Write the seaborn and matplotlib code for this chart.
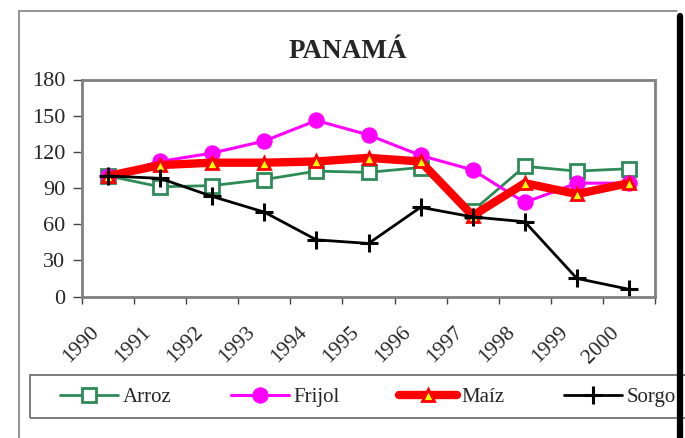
import numpy as np
import pandas as pd
import matplotlib
matplotlib.use("Agg")
import matplotlib.pyplot as plt
import matplotlib.transforms as mtransforms
import seaborn as sns
from matplotlib.lines import Line2D
from matplotlib.patches import Rectangle

years = ["1990", "1991", "1992", "1993", "1994", "1995",
         "1996", "1997", "1998", "1999", "2000"]
arroz = [100, 91, 92, 97, 104, 103, 107, 71, 108, 104, 106]
frijol = [100, 112, 119, 129, 146, 134, 117, 105, 78, 94, 94]
maiz = [100, 109, 111, 111, 112, 115, 112, 67, 94, 85, 94]
sorgo = [100, 98, 83, 70, 47, 44, 74, 66, 62, 15, 6]

sns.set_theme(style="white")
plt.rcParams["font.family"] = ["Liberation Serif", "DejaVu Serif"]

fig = plt.figure(figsize=(6.85, 4.38), dpi=100)
W, H = 685, 438
ax = fig.add_axes([82 / W, 1 - 296.5 / H, 573 / W, 217 / H])

pos = np.arange(len(years))
df = pd.DataFrame({"pos": pos, "Arroz": arroz, "Frijol": frijol,
                   "Maíz": maiz, "Sorgo": sorgo})

sns.lineplot(data=df, x="pos", y="Arroz", ax=ax, color="#2E8B57", lw=2,
             marker="s", markersize=10, markerfacecolor="white",
             markeredgecolor="#2E8B57", markeredgewidth=2, label="Arroz")
sns.lineplot(data=df, x="pos", y="Frijol", ax=ax, color="#FF00FF", lw=2.2,
             marker="o", markersize=11, markerfacecolor="#FF00FF",
             markeredgecolor="#FF00FF", label="Frijol")
sns.lineplot(data=df, x="pos", y="Maíz", ax=ax, color="#FF0000", lw=6,
             marker="^", markersize=9, markerfacecolor="#FFFF00",
             markeredgecolor="#FF0000", markeredgewidth=2, label="Maíz")
sns.lineplot(data=df, x="pos", y="Sorgo", ax=ax, color="black", lw=2,
             marker="+", markersize=13, markeredgewidth=2.2,
             markeredgecolor="black", label="Sorgo")

handles, labels = ax.get_legend_handles_labels()
ax.get_legend().remove()

ax.set_xlim(-0.5, len(years) - 0.5)
ax.set_ylim(0, 180)
ax.set_yticks(range(0, 181, 30))
ax.set_xticks(pos)
ax.set_xticklabels(years, rotation=45, ha="right", va="center",
                   rotation_mode="anchor")
ax.set_xticks(np.arange(-0.5, len(years)), minor=True)
ax.tick_params(axis="x", which="major", length=0, pad=24, labelsize=15.5)
ax.tick_params(axis="x", which="minor", length=5, width=1, color="#444444",
               direction="out", bottom=True)
ax.tick_params(axis="y", length=6.5, width=1, color="#444444", direction="out",
               left=True, labelsize=16, pad=5.5)
shift = mtransforms.ScaledTranslation(-12 / 100, 0, fig.dpi_scale_trans)
for lab in ax.get_xticklabels():
    lab.set_transform(lab.get_transform() + shift)
ax.set_xlabel("")
ax.set_ylabel("")
for s in ax.spines.values():
    s.set_color("#808080")
    s.set_linewidth(2)
ax.grid(False)

fig.text(348 / W, 1 - 52 / H, "PANAMÁ", ha="center", va="center",
         fontsize=19.5, fontweight="bold")

# legend box (runs off the right edge like the source)
fig.add_artist(Rectangle((30 / W, 1 - 418 / H), 680 / W, 43 / H,
                         transform=fig.transFigure, fill=False,
                         edgecolor="#666666", lw=1.2, clip_on=False))
leg = fig.legend(handles, labels, loc="center left", ncol=4,
                 bbox_to_anchor=(60 / W, 1 - 397 / H),
                 borderaxespad=0, borderpad=0, fontsize=15, handlelength=2.8,
                 handletextpad=0.2, columnspacing=2.85, frameon=False)

# outer chart frame
fig.add_artist(Line2D([19 / W, 677 / W], [1 - 11 / H, 1 - 11 / H],
                      color="#808080", lw=1.2, transform=fig.transFigure))
fig.add_artist(Line2D([19 / W, 19 / W], [1 - 11 / H, 0],
                      color="#808080", lw=1.2, transform=fig.transFigure))
fig.add_artist(Line2D([680 / W, 680 / W], [1 - 16 / H, 0],
                      color="black", lw=4.5, transform=fig.transFigure))

fig.savefig("out.png", dpi=100)
